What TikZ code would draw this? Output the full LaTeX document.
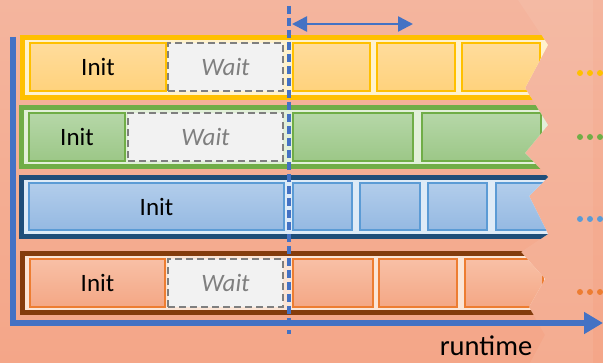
\documentclass[tikz,border=0pt]{standalone}
\usepackage{fontspec}
\setmainfont{Carlito}
\usetikzlibrary{arrows.meta}

\definecolor{bgtop}{HTML}{F4B59E}
\definecolor{bgbot}{HTML}{F4A688}
\definecolor{axisblue}{HTML}{4472C4}
\definecolor{waitgray}{HTML}{7F7F7F}
\definecolor{waitfill}{HTML}{F2F2F2}
% yellow lane
\definecolor{yEdge}{HTML}{FFC000}
\definecolor{yIn}{HTML}{FFF2CC}
\definecolor{yA}{HTML}{FFDC9C}
\definecolor{yB}{HTML}{FFD27C}
% green lane
\definecolor{gEdge}{HTML}{70AD47}
\definecolor{gIn}{HTML}{E2F0D9}
\definecolor{gA}{HTML}{B6D7A8}
\definecolor{gB}{HTML}{9CC787}
% blue lane
\definecolor{bEdge}{HTML}{1F4E79}
\definecolor{bIn}{HTML}{DEEBF7}
\definecolor{bCell}{HTML}{5B9BD5}
\definecolor{bA}{HTML}{B2CDEB}
\definecolor{bB}{HTML}{95B9E2}
% orange lane
\definecolor{oEdge}{HTML}{843C0C}
\definecolor{oIn}{HTML}{FBE5D6}
\definecolor{oCell}{HTML}{ED7D31}
\definecolor{oA}{HTML}{F8C0A6}
\definecolor{oB}{HTML}{F4A785}

\tikzset{
  lane/.style={draw, line width=5pt, inner sep=0pt},
  cell/.style={draw, line width=1.2pt, inner sep=0pt, font=\fontsize{25}{30}\selectfont},
  waitcell/.style={draw=waitgray, fill=waitfill, line width=2.5pt,
    dash pattern=on 7pt off 4pt, inner sep=0pt, text=waitgray,
    font=\fontsize{25}{30}\selectfont\itshape},
  ycell/.style={cell, draw=yEdge, top color=yA, bottom color=yB},
  gcell/.style={cell, draw=gEdge, top color=gA, bottom color=gB},
  bcell/.style={cell, draw=bCell, top color=bA, bottom color=bB},
  ocell/.style={cell, draw=oCell, top color=oA, bottom color=oB},
  axisline/.style={draw=axisblue, line width=6pt},
  dot/.style={circle, inner sep=0pt, minimum size=6pt},
}

% \boxat{name}{style}{x1}{y1}{x2}{y2}{text}
\newcommand\boxat[7]{%
  \node[#2, minimum width={(#5-#3)*1pt}, minimum height={(#6-#4)*1pt}]
    (#1) at ({(#3+#5)/2},{(#4+#6)/2}) {#7};}

\begin{document}
\begin{tikzpicture}[x=1pt, y=-1pt]
  \useasboundingbox (0,0) rectangle (603,363);
  \shade[top color=bgtop, bottom color=bgbot] (0,0) rectangle (603,363);

  % torn edge on the right
  \coordinate (t1) at (518,0);
  \coordinate (t2) at (548,45);
  \coordinate (t3) at (525,88);
  \coordinate (t4) at (548,125);
  \coordinate (t5) at (525,153);
  \coordinate (t6) at (548,177);
  \coordinate (t7) at (529,196);
  \coordinate (t8) at (548,234);
  \coordinate (t9) at (521,252);
  \coordinate (t10) at (545,279);
  \coordinate (t11) at (529,307);
  \coordinate (t12) at (545,335);
  \coordinate (t13) at (530,363);

  \fill[white, opacity=0.07] (t1) -- (t2) -- (t3) -- (t4) -- (t5) -- (t6) -- (t7)
    -- (t8) -- (t9) -- (t10) -- (t11) -- (t12) -- (t13) -- (593,363) -- (593,0) -- cycle;

  \begin{scope}
    \clip (0,0) -- (t1) -- (t2) -- (t3) -- (t4) -- (t5) -- (t6) -- (t7)
      -- (t8) -- (t9) -- (t10) -- (t11) -- (t12) -- (t13) -- (0,363) -- cycle;

    % yellow lane
    \boxat{laneY}{lane, draw=yEdge, fill=yIn}{22.5}{37.5}{575}{97.5}{}
    \boxat{initY}{ycell}{30}{43}{166}{91}{Init}
    \boxat{waitY}{waitcell}{168}{43}{283}{91}{Wait}
    \boxat{y1}{ycell}{293}{43}{370}{91}{}
    \boxat{y2}{ycell}{377}{43}{455}{91}{}
    \boxat{y3}{ycell}{462}{43}{540}{91}{}

    % green lane
    \boxat{laneG}{lane, draw=gEdge, fill=gIn}{21.5}{107.5}{575}{166.5}{}
    \boxat{initG}{gcell}{29}{113}{125}{161}{Init}
    \boxat{waitG}{waitcell}{128}{113}{283}{161}{Wait}
    \boxat{g1}{gcell}{293}{113}{413}{161}{}
    \boxat{g2}{gcell}{422}{113}{541}{161}{}

    % blue lane
    \boxat{laneB}{lane, draw=bEdge, fill=bIn}{21.5}{177.5}{575}{237}{}
    \boxat{initB}{bcell}{29}{183}{284}{230}{Init}
    \boxat{b1}{bcell}{293}{183}{352}{230}{}
    \boxat{b2}{bcell}{360}{183}{420}{230}{}
    \boxat{b3}{bcell}{428}{183}{487}{230}{}
    \boxat{b4}{bcell}{496}{183}{556}{230}{}

    % orange lane
    \boxat{laneO}{lane, draw=oEdge, fill=oIn}{22.5}{253.5}{575}{313}{}
    \boxat{initO}{ocell}{30}{259}{165}{307}{Init}
    \boxat{waitO}{waitcell}{168}{259}{283}{307}{Wait}
    \boxat{o1}{ocell}{293}{259}{373}{307}{}
    \boxat{o2}{ocell}{379}{259}{457}{307}{}
    \boxat{o3}{ocell}{465}{259}{543}{307}{}
  \end{scope}

  % continuation dots
  \foreach \i/\x in {1/580,2/590,3/600}{
    \node[dot, fill=yEdge] (dy\i) at (\x,73) {};
    \node[dot, fill=gEdge] (dg\i) at (\x,137) {};
    \node[dot, fill=bCell] (db\i) at (\x,219) {};
    \node[dot, fill=oCell] (do\i) at (\x,292) {};
  }

  % axes
  \coordinate (ytop) at (13,37);
  \coordinate (origin) at (13,323);
  \coordinate (xend) at (603,323);
  \draw[axisline, line join=miter, -{Triangle[length=19pt,width=21pt]}]
    (ytop) -- (origin) -- (xend);
  \node[anchor=base, font=\fontsize{28.5}{34}\selectfont] (rt) at (486,356) {runtime};

  % cut line and period marker
  \coordinate (cutTop) at (289,6);
  \coordinate (cutBot) at (289,334);
  \draw[draw=axisblue, line width=3.5pt, dash pattern=on 8pt off 4pt] (cutTop) -- (cutBot);
  \coordinate (spanL) at (292,24);
  \coordinate (spanR) at (413,24);
  \draw[draw=axisblue, line width=2.5pt,
    {Triangle[length=15pt,width=15pt]}-{Triangle[length=15pt,width=15pt]}]
    (spanL) -- (spanR);
\end{tikzpicture}
\end{document}
